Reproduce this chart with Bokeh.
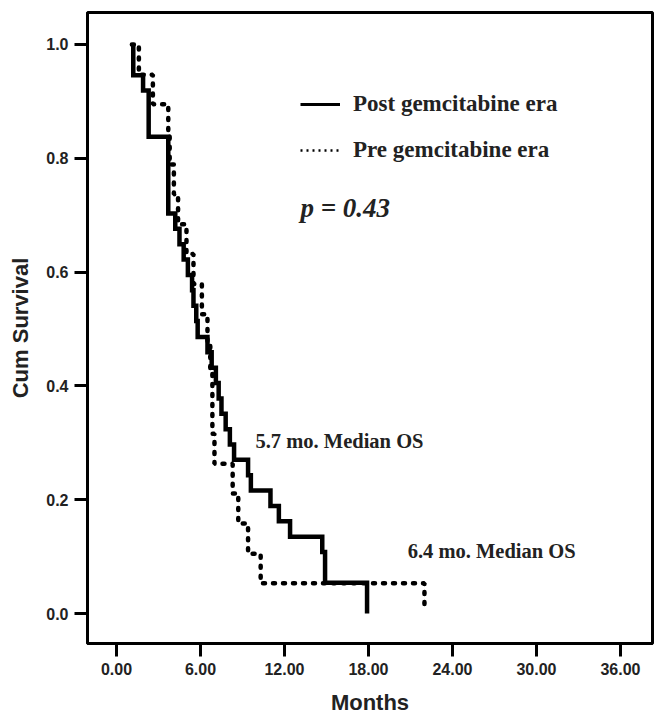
from bokeh.plotting import figure
from bokeh.models import Range1d, FixedTicker, Label, Legend, LegendItem, ColumnDataSource
from bokeh.embed import file_html
from bokeh.resources import INLINE

# ---- data ----
# Post gemcitabine era (solid): event times (months) and survival after each event
post_start = [1.2]
post_time = [1.2, 1.9, 2.3, 3.7, 4.2, 4.5, 4.8, 5.1, 5.4, 5.5, 5.7, 5.8, 6.5, 6.8,
             7.1, 7.3, 7.5, 7.8, 8.1, 8.4, 9.4, 9.6, 11.0, 11.6, 12.4, 14.7, 14.9, 17.9]
post_surv = [0.946, 0.919, 0.838, 0.703, 0.676, 0.649, 0.622, 0.595, 0.568, 0.541,
             0.514, 0.486, 0.459, 0.432, 0.405, 0.378, 0.351, 0.324, 0.297, 0.270,
             0.243, 0.216, 0.189, 0.162, 0.135, 0.108, 0.054, 0.0]

# Pre gemcitabine era (dotted)
pre_start = [1.1]
pre_time = [1.6, 2.6, 3.7, 3.8, 4.1, 4.4, 5.0, 5.5, 6.1, 6.5, 6.7, 6.85, 7.0,
            8.3, 8.7, 9.4, 10.3, 22.0]
pre_surv = [0.947, 0.895, 0.842, 0.789, 0.737, 0.684, 0.632, 0.579, 0.526, 0.474,
            0.421, 0.316, 0.263, 0.211, 0.158, 0.105, 0.053, 0.01]

x_ticks = [0, 6, 12, 18, 24, 30, 36]
x_tick_labels = ["0.00", "6.00", "12.00", "18.00", "24.00", "30.00", "36.00"]
y_ticks = [0.0, 0.2, 0.4, 0.6, 0.8, 1.0]
y_tick_labels = ["0.0", "0.2", "0.4", "0.6", "0.8", "1.0"]

series_names = ["Post gemcitabine era", "Pre gemcitabine era"]
p_value_text = "p = 0.43"
median_texts = ["5.7 mo. Median OS", "6.4 mo. Median OS"]

SANS = "Liberation Sans"
SERIF = "Liberation Serif"
NAN = float("nan")

p = figure(width=660, height=717, output_backend="svg", toolbar_location=None,
           x_range=Range1d(-2.07, 38.29), y_range=Range1d(-0.0527, 1.0562),
           min_border_left=87, min_border_right=8, min_border_top=12, min_border_bottom=74)

p.xgrid.visible = False
p.ygrid.visible = False
p.outline_line_color = "black"
p.outline_line_width = 3
p.background_fill_color = "white"
p.border_fill_color = "white"

for ax in (p.xaxis[0], p.yaxis[0]):
    ax.axis_line_width = 3
    ax.axis_line_color = "black"
    ax.major_tick_line_width = 3
    ax.major_tick_line_color = "black"
    ax.major_tick_in = 0
    ax.major_tick_out = 13
    ax.minor_tick_line_color = None
    ax.major_label_text_font = SANS
    ax.major_label_text_font_style = "bold"
    ax.major_label_text_font_size = "16px"
    ax.major_label_text_color = "#222222"
    ax.axis_label_text_font = SANS
    ax.axis_label_text_font_style = "bold"
    ax.axis_label_text_font_size = "22px"
    ax.axis_label_text_color = "#222222"

p.xaxis.ticker = FixedTicker(ticks=x_ticks)
p.xaxis.major_label_overrides = dict(zip(x_ticks, x_tick_labels))
p.yaxis.ticker = FixedTicker(ticks=y_ticks)
p.yaxis.major_label_overrides = dict(zip(y_ticks, y_tick_labels))
p.xaxis.major_label_standoff = 6
p.yaxis.major_label_standoff = 6
p.xaxis.axis_label = "Months"
p.yaxis.axis_label = "Cum Survival"
p.xaxis.axis_label_standoff = 12
p.yaxis.axis_label_standoff = 10

post_src = ColumnDataSource(dict(x=post_start + post_time, y=[1.0] + post_surv))
pre_src = ColumnDataSource(dict(x=pre_start + pre_time, y=[1.0] + pre_surv))

p.step("x", "y", source=pre_src, mode="after", line_color="black", line_width=4.5,
       line_dash="2 8", line_cap="round")
p.step("x", "y", source=post_src, mode="after", line_color="black", line_width=4.5,
       line_join="miter")

# legend sample renderers (thin styles as in the original legend), no visible data
leg_post = p.line(x=[NAN, NAN], y=[NAN, NAN], line_color="black", line_width=3)
leg_pre = p.line(x=[NAN, NAN], y=[NAN, NAN], line_color="black", line_width=2.5,
                 line_dash="2 4")

legend = Legend(items=[LegendItem(label=series_names[0], renderers=[leg_post]),
                       LegendItem(label=series_names[1], renderers=[leg_pre])],
                location=(213, 480), orientation="vertical",
                glyph_width=40, glyph_height=20, label_height=20, spacing=20,
                label_standoff=13, padding=0, margin=0,
                border_line_color=None, background_fill_alpha=0,
                label_text_font=SERIF, label_text_font_style="bold",
                label_text_font_size="23px", label_text_color="#222222")
p.add_layout(legend)

p.add_layout(Label(x=13.14, y=0.7135, text=p_value_text, text_font=SERIF,
                   text_font_style="bold italic", text_font_size="27px",
                   text_color="#222222", text_baseline="alphabetic"))
p.add_layout(Label(x=9.93, y=0.304, text=median_texts[0], text_font=SERIF,
                   text_font_style="bold", text_font_size="20.5px",
                   text_color="#222222", text_baseline="middle"))
p.add_layout(Label(x=20.8, y=0.109, text=median_texts[1], text_font=SERIF,
                   text_font_style="bold", text_font_size="20.5px",
                   text_color="#222222", text_baseline="middle"))

open("out.html", "w").write(file_html(p, INLINE))
